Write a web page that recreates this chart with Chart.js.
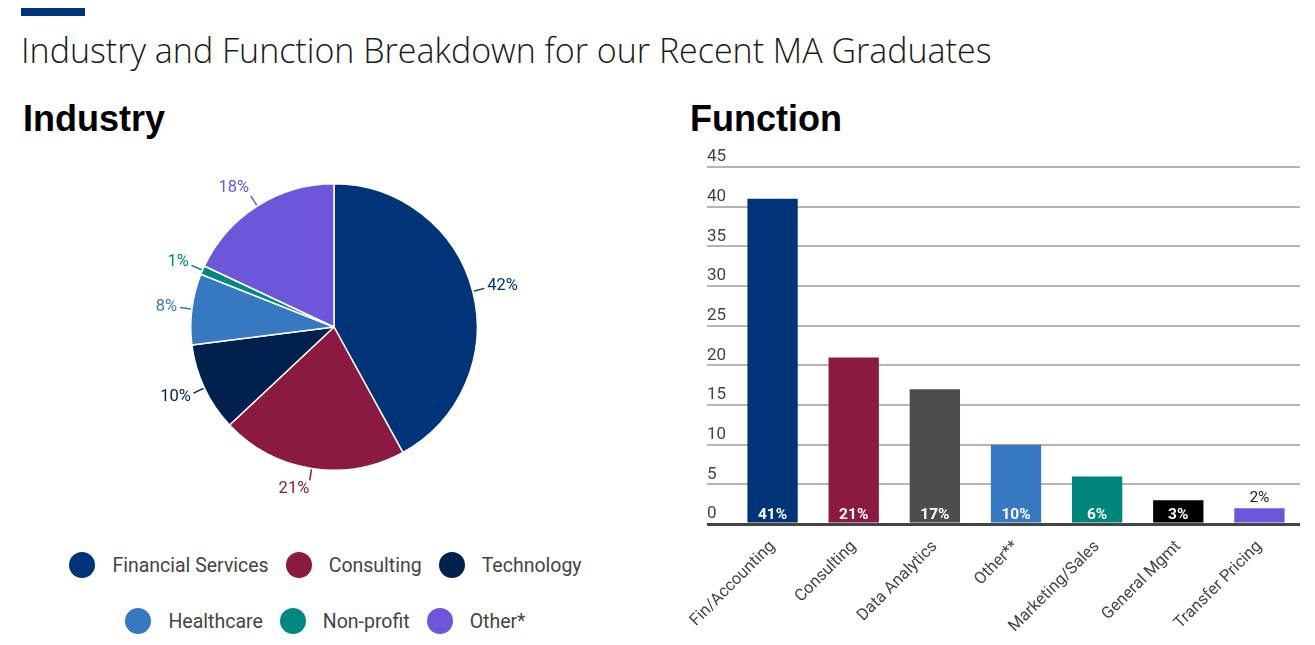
<!DOCTYPE html>
<html>
<head>
<meta charset="utf-8">
<script src="https://cdn.jsdelivr.net/npm/chart.js@4.4.1/dist/chart.umd.min.js"></script>
<style>
  html, body { margin: 0; padding: 0; background: #fff; }
  body { width: 1315px; height: 645px; position: relative; overflow: hidden; }
  .accent { position: absolute; left: 21px; top: 8px; width: 64px; height: 8px; background: #003478; }
  h1 {
    position: absolute; left: 21px; top: 33px; margin: 0;
    font: 300 34px/1 "Open Sans", sans-serif; color: #1a1a1a; white-space: nowrap;
  }
  h2 {
    position: absolute; top: 101px; margin: 0;
    font: bold 36px/1 "Liberation Sans", Arial, sans-serif; color: #000;
  }
  #pie-wrap { position: absolute; left: 0; top: 147px; width: 668px; height: 360px; }
  #bar-wrap { position: absolute; left: 680px; top: 140px; width: 635px; height: 505px; }
  #legend { position: absolute; left: 0; top: 552px; width: 651px; }
  .row { display: flex; justify-content: center; height: 26px; margin-bottom: 30px; }
  .item { display: flex; align-items: center; margin-right: 17px; font: 19.5px Roboto, sans-serif; color: #444; }
  .item:last-child { margin-right: 0; }
  .dot { width: 26px; height: 26px; border-radius: 50%; margin-right: 17px; }
</style>
</head>
<body>
<div class="accent"></div>
<h1>Industry and Function Breakdown for our Recent MA Graduates</h1>
<h2 style="left:23px">Industry</h2>
<h2 style="left:690px">Function</h2>
<div id="pie-wrap"><canvas id="industry-chart" width="668" height="360"></canvas></div>
<div id="legend"></div>
<div id="bar-wrap"><canvas id="function-chart" width="635" height="505"></canvas></div>

<script>
const industryLabels = ["Financial Services", "Consulting", "Technology", "Healthcare", "Non-profit", "Other*"];
const industryValues = [42, 21, 10, 8, 1, 18];
const industryColors = ["#003478", "#8b1a42", "#00214d", "#3679c0", "#00877f", "#6e56db"];

const functionLabels = ["Fin/Accounting", "Consulting", "Data Analytics", "Other**", "Marketing/Sales", "General Mgmt", "Transfer Pricing"];
const functionValues = [41, 21, 17, 10, 6, 3, 2];
const functionColors = ["#003478", "#8b1a42", "#4d4d4d", "#3679c0", "#00857d", "#000000", "#6e56db"];

const yTickMax = 45;
const yTickStep = 5;

const textColor = "#444";

// percent labels outside the pie, with a short leader line
const pieLabelPlugin = {
  id: "pieLabels",
  afterDatasetsDraw(chart) {
    const ctx = chart.ctx;
    const meta = chart.getDatasetMeta(0);
    ctx.save();
    ctx.font = "16.5px Roboto";
    ctx.textBaseline = "middle";
    meta.data.forEach((arc, i) => {
      const p = arc.getProps(["x", "y", "startAngle", "endAngle", "outerRadius"], true);
      const mid = (p.startAngle + p.endAngle) / 2;
      const cos = Math.cos(mid);
      const sin = Math.sin(mid);
      const color = industryColors[i];
      ctx.strokeStyle = color;
      ctx.lineWidth = 1.5;
      ctx.beginPath();
      ctx.moveTo(p.x + cos * (p.outerRadius + 1), p.y + sin * (p.outerRadius + 1));
      ctx.lineTo(p.x + cos * (p.outerRadius + 12), p.y + sin * (p.outerRadius + 12));
      ctx.stroke();
      const r = p.outerRadius + 15;
      ctx.fillStyle = color;
      ctx.textAlign = cos >= 0 ? "left" : "right";
      ctx.fillText(industryValues[i] + "%", p.x + cos * r, p.y + sin * r + sin * 6);
    });
    ctx.restore();
  }
};

// value labels at the foot of each bar, or above it when the bar is too short
const barLabelPlugin = {
  id: "barLabels",
  afterDatasetsDraw(chart) {
    const ctx = chart.ctx;
    const meta = chart.getDatasetMeta(0);
    ctx.save();
    ctx.textAlign = "center";
    ctx.textBaseline = "middle";
    meta.data.forEach((bar, i) => {
      const txt = functionValues[i] + "%";
      if (bar.base - bar.y > 20) {
        ctx.font = "bold 15.5px Roboto";
        ctx.fillStyle = "#fff";
        ctx.fillText(txt, bar.x, bar.base - 7);
      } else {
        ctx.font = "15.5px Roboto";
        ctx.fillStyle = "#222";
        ctx.fillText(txt, bar.x, bar.y - 10);
      }
    });
    ctx.restore();
  }
};

function buildLegend() {
  const legend = document.getElementById("legend");
  const rows = [industryLabels.slice(0, 3), industryLabels.slice(3)];
  let idx = 0;
  rows.forEach((names) => {
    const row = document.createElement("div");
    row.className = "row";
    names.forEach((name) => {
      const item = document.createElement("div");
      item.className = "item";
      const dot = document.createElement("span");
      dot.className = "dot";
      dot.style.background = industryColors[idx];
      const label = document.createElement("span");
      label.textContent = name;
      item.appendChild(dot);
      item.appendChild(label);
      row.appendChild(item);
      idx++;
    });
    legend.appendChild(row);
  });
}

function createIndustryChart() {
  return new Chart(document.getElementById("industry-chart"), {
    type: "pie",
    data: {
      labels: industryLabels,
      datasets: [{
        data: industryValues,
        backgroundColor: industryColors,
        borderColor: "#fff",
        borderWidth: 1.5
      }]
    },
    options: {
      responsive: false,
      animation: false,
      layout: { padding: { top: 36, bottom: 36 } },
      plugins: { legend: { display: false }, tooltip: { enabled: false } }
    },
    plugins: [pieLabelPlugin]
  });
}

function createFunctionChart() {
  return new Chart(document.getElementById("function-chart"), {
    type: "bar",
    data: {
      labels: functionLabels,
      datasets: [{
        data: functionValues,
        backgroundColor: functionColors,
        categoryPercentage: 1,
        barPercentage: 0.62
      }]
    },
    options: {
      responsive: false,
      animation: false,
      layout: { padding: { left: 27, right: 15, top: 27, bottom: 11 } },
      plugins: { legend: { display: false }, tooltip: { enabled: false } },
      scales: {
        x: {
          grid: { display: false },
          border: { display: false },
          ticks: {
            color: textColor,
            font: { family: "Roboto", size: 16.5 },
            autoSkip: false,
            minRotation: 45,
            maxRotation: 45,
            padding: 5
          },
          afterFit(scale) { scale.height = 110; }
        },
        y: {
          min: 0,
          max: yTickMax,
          border: { display: false },
          ticks: {
            stepSize: yTickStep,
            color: textColor,
            font: { family: "Roboto", size: 17 },
            crossAlign: "far",
            labelOffset: -10,
            padding: 0
          },
          grid: {
            color: (c) => (c.tick && c.tick.value === 0 ? "#444" : "#b5b5b5"),
            lineWidth: (c) => (c.tick && c.tick.value === 0 ? 3 : 2),
            drawTicks: true,
            tickLength: 25
          },
          afterFit(scale) { scale.width = 25; }
        }
      }
    },
    plugins: [barLabelPlugin]
  });
}

buildLegend();
createIndustryChart();
createFunctionChart();
</script>
</body>
</html>
